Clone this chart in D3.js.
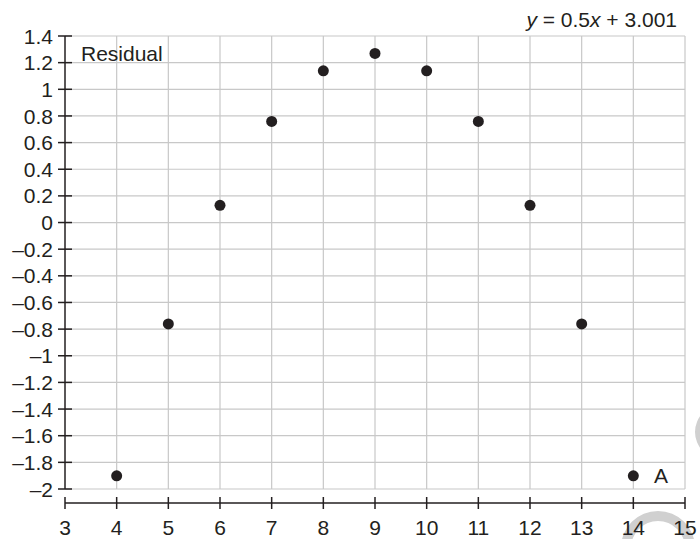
<!DOCTYPE html>
<html><head><meta charset="utf-8">
<script src="https://cdn.jsdelivr.net/npm/d3@7"></script>
<style>body{margin:0;background:#fff}svg{display:block;font-family:"Liberation Sans",Arial,sans-serif}</style>
</head><body><svg id="c" width="700" height="539"></svg>
<script>
const xValues = [4,5,6,7,8,9,10,11,12,13,14];
const residuals = [-1.901,-0.761,0.129,0.759,1.139,1.269,1.139,0.759,0.129,-0.761,-1.901];
const xTicks = [3,4,5,6,7,8,9,10,11,12,13,14,15];
const yTicks = [1.4,1.2,1,0.8,0.6,0.4,0.2,0,-0.2,-0.4,-0.6,-0.8,-1,-1.2,-1.4,-1.6,-1.8,-2];
const yLabel = "Residual";
const pointLabel = "A";

const svg = d3.select("#c");
const x = d3.scaleLinear().domain([3,15]).range([65,685]);
const y = d3.scaleLinear().domain([-2,1.4]).range([489,36]);
const fmt = v => (v<0? "\u2013"+String(Math.abs(Math.round(v*10)/10)) : String(Math.round(v*10)/10));
const FS = 21;

// watermark arcs
const arc = d3.arc();
svg.append("path").attr("transform","translate(658,548)")
  .attr("d", arc({innerRadius:27,outerRadius:37,startAngle:-Math.PI/2,endAngle:Math.PI/2}))
  .attr("fill","#d0d0d0");
svg.append("path").attr("transform","translate(722,432)")
  .attr("d", arc({innerRadius:17,outerRadius:27,startAngle:Math.PI,endAngle:2*Math.PI}))
  .attr("fill","#d0d0d0");

// grid
const g = svg.append("g");
g.selectAll(".vg").data(xTicks.filter(d=>d>3)).enter().append("line")
  .attr("x1",d=>x(d)).attr("x2",d=>x(d)).attr("y1",y(1.4)).attr("y2",y(-2))
  .attr("stroke","#c8c8c8").attr("stroke-width",1.2);
g.selectAll(".hg").data(yTicks).enter().append("line")
  .attr("x1",x(3)).attr("x2",x(15)).attr("y1",d=>y(d)).attr("y2",d=>y(d))
  .attr("stroke","#c8c8c8").attr("stroke-width",1.2);

// y axis
svg.append("line").attr("x1",x(3)).attr("x2",x(3)).attr("y1",y(1.4)).attr("y2",y(-2))
  .attr("stroke","#231f20").attr("stroke-width",1.5);
svg.selectAll(".yt").data(yTicks).enter().append("line")
  .attr("x1",x(3)-7).attr("x2",x(3)+7).attr("y1",d=>y(d)).attr("y2",d=>y(d))
  .attr("stroke","#231f20").attr("stroke-width",1.5);
svg.selectAll(".yl").data(yTicks).enter().append("text")
  .attr("x",x(3)-12).attr("y",d=>y(d)).attr("dy","0.36em").attr("text-anchor","end")
  .attr("font-size",FS).attr("fill","#231f20").text(fmt);

// x axis
const xAxisY = 503;
svg.append("line").attr("x1",x(3)).attr("x2",x(15)).attr("y1",xAxisY).attr("y2",xAxisY)
  .attr("stroke","#231f20").attr("stroke-width",1.5);
svg.selectAll(".xt").data(xTicks).enter().append("line")
  .attr("x1",d=>x(d)).attr("x2",d=>x(d)).attr("y1",xAxisY-6).attr("y2",xAxisY+6)
  .attr("stroke","#231f20").attr("stroke-width",1.5);
svg.selectAll(".xl").data(xTicks).enter().append("text")
  .attr("x",d=>x(d)).attr("y",535).attr("text-anchor","middle")
  .attr("font-size",FS).attr("fill","#231f20").text(d=>d);

// points
svg.selectAll(".pt").data(xValues).enter().append("circle")
  .attr("cx",d=>x(d)).attr("cy",(d,i)=>y(residuals[i])).attr("r",5.5).attr("fill","#231f20");

// labels
svg.append("text").attr("x",81).attr("y",61).attr("font-size",FS).attr("fill","#231f20").text(yLabel);
svg.append("text").attr("x",654).attr("y",483).attr("font-size",FS).attr("fill","#231f20").text(pointLabel);
const eq = svg.append("text").attr("x",677).attr("y",27).attr("text-anchor","end").attr("font-size",FS).attr("fill","#231f20");
eq.append("tspan").attr("font-style","italic").text("y");
eq.append("tspan").text(" = 0.5");
eq.append("tspan").attr("font-style","italic").text("x");
eq.append("tspan").text(" + 3.001");
</script></body></html>
